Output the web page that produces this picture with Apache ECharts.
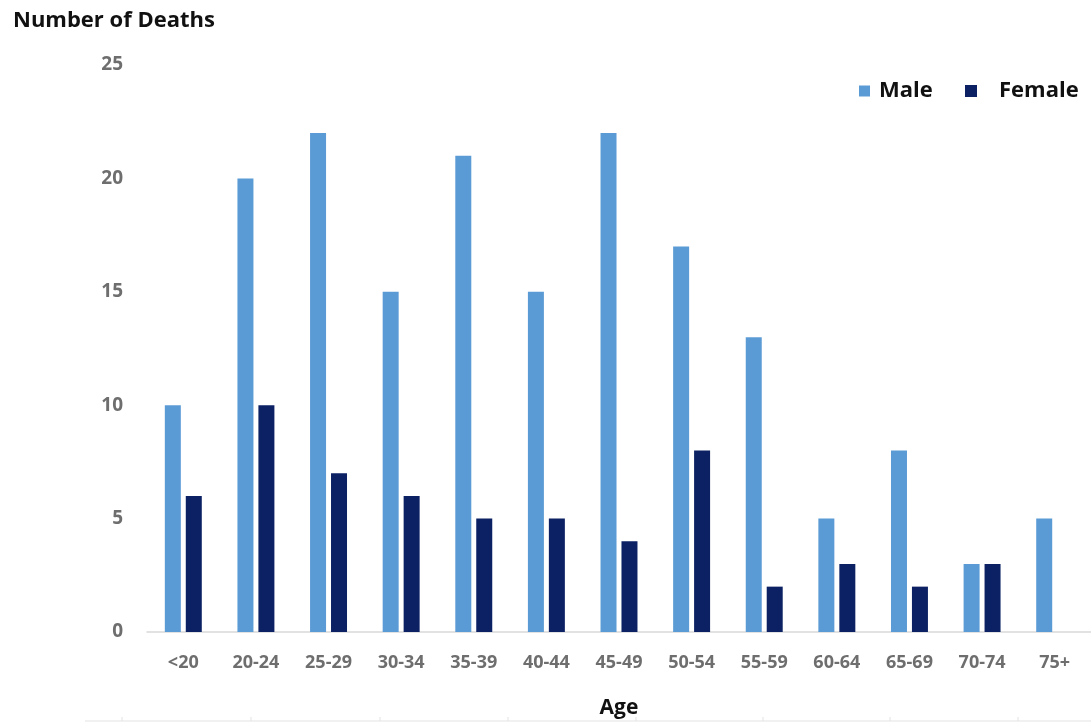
<!DOCTYPE html>
<html>
<head>
<meta charset="utf-8">
<script src="https://cdn.jsdelivr.net/npm/echarts@6/dist/echarts.min.js"></script>
<style>
html,body{margin:0;padding:0;background:#fff;}
#chart{width:1091px;height:725px;}
</style>
</head>
<body>
<div id="chart"></div>
<script>
const ageGroups = ['<20','20-24','25-29','30-34','35-39','40-44','45-49','50-54','55-59','60-64','65-69','70-74','75+'];
const maleDeaths = [10,20,22,15,21,15,22,17,13,5,8,3,5];
const femaleDeaths = [6,10,7,6,5,5,4,8,2,3,2,3,null];
const yTicks = {min:0, max:25, interval:5};

const FONT = '"Open Sans", "Liberation Sans", sans-serif';
const chart = echarts.init(document.getElementById('chart'), null, {renderer:'canvas'});

const bottomTicks = [122,251,380,508,636,763,890,1018];
const graphics = [{
  type:'line', shape:{x1:85,y1:721,x2:1091,y2:721},
  style:{stroke:'#e3e3e3', lineWidth:1}, silent:true
}];
bottomTicks.forEach(x => graphics.push({
  type:'line', shape:{x1:x,y1:717,x2:x,y2:721},
  style:{stroke:'#e3e3e3', lineWidth:1}, silent:true
}));

chart.setOption({
  animation:false,
  backgroundColor:'#ffffff',
  title:{
    text:'Number of Deaths', left:8, top:5,
    textStyle:{fontFamily:FONT, fontSize:22, fontWeight:'bold', color:'#111'}
  },
  legend:[{
    data:['Male'], left:854, top:75, icon:'rect', itemWidth:11, itemHeight:11,
    textStyle:{fontFamily:FONT, fontSize:22, fontWeight:'bold', color:'#111', padding:[0,0,0,4]}
  },{
    data:['Female'], left:960, top:75, icon:'rect', itemWidth:12, itemHeight:12,
    textStyle:{fontFamily:FONT, fontSize:22, fontWeight:'bold', color:'#111', padding:[0,0,0,17]}
  }],
  grid:{left:147, right:-2, top:65, bottom:93, containLabel:false},
  xAxis:{
    type:'category', data:ageGroups,
    name:'Age', nameLocation:'middle', nameGap:66,
    nameTextStyle:{fontFamily:FONT, fontSize:21, fontWeight:'bold', color:'#111'},
    axisLine:{show:true, lineStyle:{color:'#d9d9d9', width:1.5}},
    axisTick:{show:false},
    axisLabel:{fontFamily:FONT, fontSize:18, fontWeight:'bold', color:'#6e6e6e', margin:22}
  },
  yAxis:{
    type:'value', min:yTicks.min, max:yTicks.max, interval:yTicks.interval,
    axisLine:{show:false}, axisTick:{show:false}, splitLine:{show:false},
    axisLabel:{fontFamily:FONT, fontSize:19, fontWeight:'bold', color:'#6e6e6e', margin:24}
  },
  series:[{
    name:'Male', type:'bar', data:maleDeaths, barWidth:16, barGap:'31%',
    itemStyle:{color:'#5b9bd5'}
  },{
    name:'Female', type:'bar', data:femaleDeaths, barWidth:16,
    itemStyle:{color:'#0b2163'}
  }],
  graphic:graphics
});
</script>
</body>
</html>
